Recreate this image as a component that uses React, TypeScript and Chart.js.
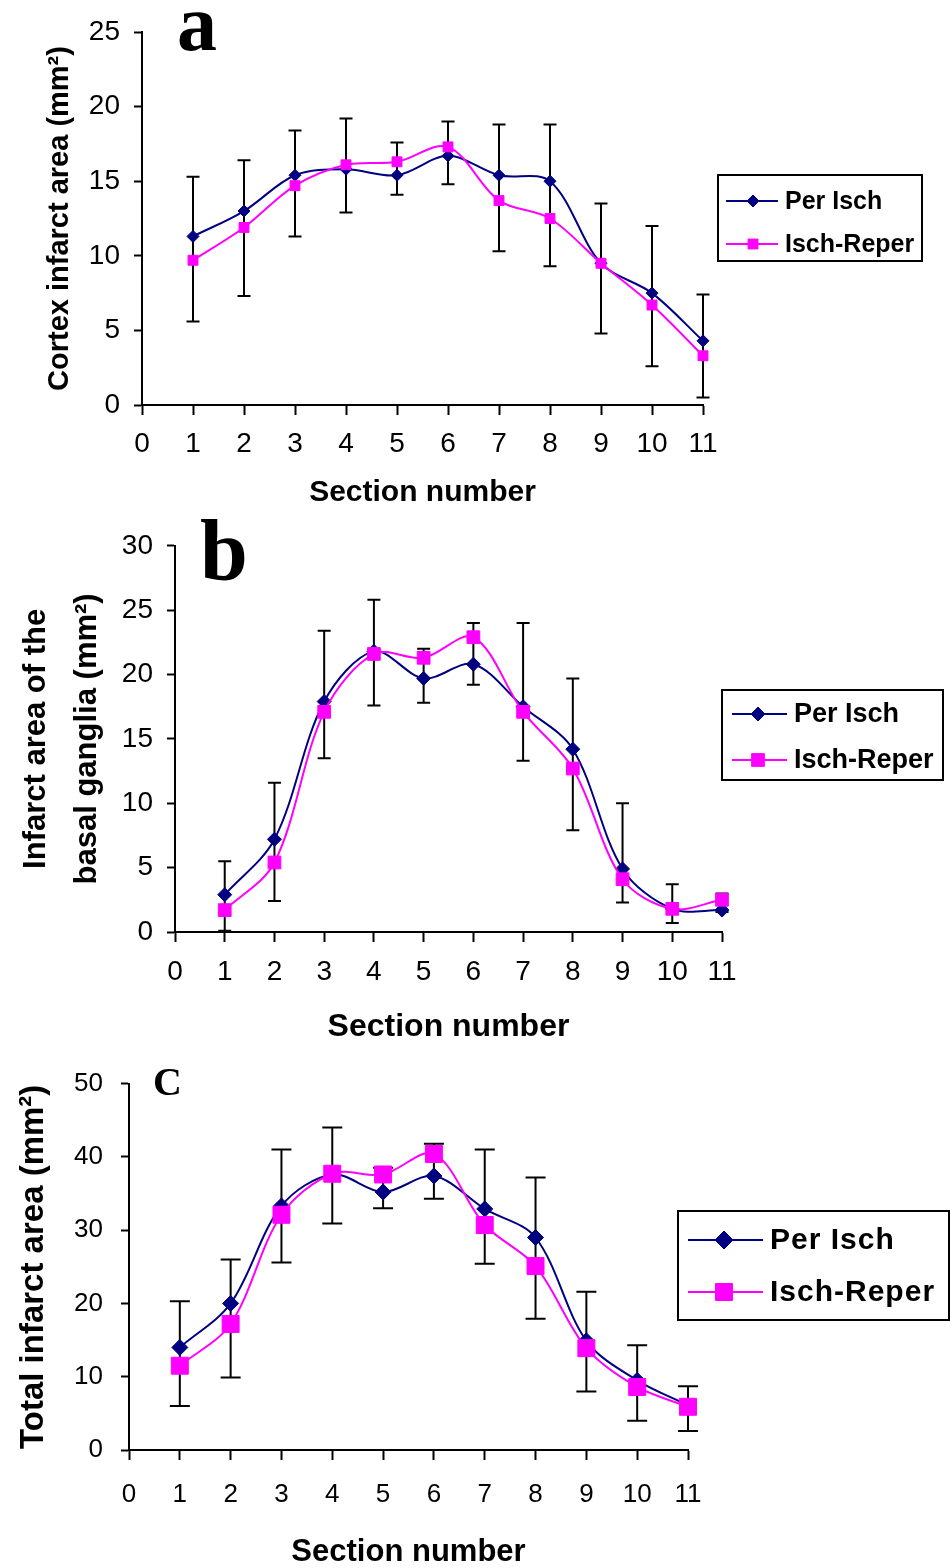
import React, { useEffect, useRef } from "react";
import { Chart, registerables } from "chart.js";

Chart.register(...registerables);
Chart.defaults.color = "#000";

// ---------------- data ----------------
const sections = [1, 2, 3, 4, 5, 6, 7, 8, 9, 10, 11];
const seriesNames = ["Per Isch", "Isch-Reper"];

// panel a: cortex
const cortexPerIsch = [11.3, 13.0, 15.4, 15.8, 15.4, 16.7, 15.4, 15.0, 9.5, 7.5, 4.3];
const cortexIschReper = [9.7, 11.9, 14.7, 16.1, 16.3, 17.3, 13.7, 12.5, 9.5, 6.7, 3.3];
const cortexPerIschSD = [4.0, 3.4, 3.0, 3.4, 2.2, 2.3, 3.4, 3.8, 4.0, 4.5, 3.1];
const cortexIschReperSD = [4.1, 4.6, 3.4, 3.2, 2.2, 2.5, 3.4, 3.2, 4.7, 4.1, 2.8];

// panel b: basal ganglia
const basalPerIsch = [2.9, 7.2, 17.9, 21.8, 19.7, 20.8, 17.5, 14.2, 4.9, 1.8, 1.7];
const basalIschReper = [1.7, 5.4, 17.1, 21.6, 21.3, 22.9, 17.1, 12.7, 4.1, 1.8, 2.5];
const basalPerIschSD = [2.6, 4.4, 5.5, 4.0, 2.3, 3.2, 6.5, 5.5, 5.1, 1.9, 1.3];
const basalIschReperSD = [1.6, 3.0, 3.6, 4.0, 3.5, 3.7, 3.8, 4.8, 1.8, 1.1, 0.95];

// panel c: total
const totalPerIsch = [14.0, 20.0, 33.3, 37.6, 35.2, 37.4, 32.9, 29.0, 14.9, 9.5, 6.1];
const totalIschReper = [11.5, 17.2, 32.1, 37.7, 37.6, 40.4, 30.7, 25.1, 13.9, 8.6, 5.9];
const totalPerIschSD = [6.3, 6.0, 7.7, 6.4, 3.3, 4.4, 8.1, 8.2, 6.7, 4.8, 2.6];
const totalIschReperSD = [5.5, 7.3, 6.5, 6.8, 4.6, 6.1, 5.3, 7.2, 5.9, 4.6, 3.3];

// axis ranges / ticks
const xMax = 11;
const cortexYMax = 25;
const cortexYStep = 5;
const basalYMax = 30;
const basalYStep = 5;
const totalYMax = 50;
const totalYStep = 10;

// ---------------- styles ----------------
const BLUE = "#000080";
const PINK = "#FF00FF";
const TICK_FAMILY = '"Liberation Sans Narrow", "Liberation Sans", Arial, sans-serif';
const SANS = '"Liberation Sans", Arial, sans-serif';
const SERIF = '"Liberation Serif", "Times New Roman", serif';

type Spec = {
  top: number;
  height: number;
  area: { left: number; top: number; right: number; bottom: number };
  yMax: number;
  yStep: number;
  perIsch: number[];
  ischReper: number[];
  perIschSD: number[];
  ischReperSD: number[];
  yTitle: string | string[];
  yTitleSize: number;
  yTitleLH: number;
  yTitlePad: number;
  xTitleSize: number;
  xTitleLH: number;
  xTitlePad: number;
  tickSize: number;
  xTickPad: number;
  yTickPad: number;
  blueR: number;
  pinkR: number;
  cap: number;
  letter: string;
  letterFont: string;
  letterX: number;
  letterY: number;
  legend: {
    left: number; top: number; right: number; bottom: number;
    rows: number[]; lineX0: number; lineX1: number; markX: number; textX: number;
    font: string; spacing: number; blueR: number; pinkR: number;
  };
};

const panels: Spec[] = [
  {
    top: 0, height: 515,
    area: { left: 142, top: 32, right: 703, bottom: 405 },
    yMax: cortexYMax, yStep: cortexYStep,
    perIsch: cortexPerIsch, ischReper: cortexIschReper,
    perIschSD: cortexPerIschSD, ischReperSD: cortexIschReperSD,
    yTitle: "Cortex infarct area (mm\u00B2)", yTitleSize: 29, yTitleLH: 1.2, yTitlePad: 43,
    xTitleSize: 30, xTitleLH: 1.2, xTitlePad: 4,
    tickSize: 28, xTickPad: 12, yTickPad: 14,
    blueR: 6, pinkR: 7, cap: 13,
    letter: "a", letterFont: `bold 80px ${SERIF}`, letterX: 177, letterY: 50,
    legend: {
      left: 718, top: 175, right: 922, bottom: 261, rows: [201, 244],
      lineX0: 726, lineX1: 778, markX: 753, textX: 785,
      font: `bold 25px ${SANS}`, spacing: 0, blueR: 6, pinkR: 7,
    },
  },
  {
    top: 515, height: 535,
    area: { left: 175, top: 17, right: 722, bottom: 417 },
    yMax: basalYMax, yStep: basalYStep,
    perIsch: basalPerIsch, ischReper: basalIschReper,
    perIschSD: basalPerIschSD, ischReperSD: basalIschReperSD,
    yTitle: ["Infarct area of the", "basal ganglia (mm\u00B2)"], yTitleSize: 31, yTitleLH: 1.65, yTitlePad: 11,
    xTitleSize: 32, xTitleLH: 1.2, xTitlePad: 4,
    tickSize: 28, xTickPad: 13, yTickPad: 14,
    blueR: 7, pinkR: 9, cap: 13,
    letter: "b", letterFont: `bold 86px ${SERIF}`, letterX: 200, letterY: 64,
    legend: {
      left: 722, top: 175, right: 943, bottom: 265, rows: [199, 245],
      lineX0: 732, lineX1: 787, markX: 758, textX: 794,
      font: `bold 27px ${SANS}`, spacing: 0, blueR: 7, pinkR: 9,
    },
  },
  {
    top: 1050, height: 518,
    area: { left: 129, top: 30, right: 688, bottom: 400 },
    yMax: totalYMax, yStep: totalYStep,
    perIsch: totalPerIsch, ischReper: totalIschReper,
    perIschSD: totalPerIschSD, ischReperSD: totalIschReperSD,
    yTitle: "Total infarct area (mm\u00B2)", yTitleSize: 33, yTitleLH: 1.2, yTitlePad: 14,
    xTitleSize: 31, xTitleLH: 1.0, xTitlePad: 0,
    tickSize: 26, xTickPad: 19, yTickPad: 18,
    blueR: 8, pinkR: 12, cap: 20,
    letter: "C", letterFont: `bold 40px ${SERIF}`, letterX: 153, letterY: 45,
    legend: {
      left: 678, top: 161, right: 949, bottom: 270, rows: [190, 242],
      lineX0: 688, lineX1: 763, markX: 724, textX: 770,
      font: `bold 30px ${SANS}`, spacing: 1, blueR: 9, pinkR: 12,
    },
  },
];

function drawMarker(ctx: CanvasRenderingContext2D, style: string, x: number, y: number, r: number, color: string) {
  ctx.save();
  ctx.fillStyle = color;
  ctx.strokeStyle = color;
  ctx.lineWidth = 1;
  ctx.beginPath();
  if (style === "rect") {
    const s = Math.SQRT1_2 * r;
    ctx.rect(x - s, y - s, 2 * s, 2 * s);
  } else {
    ctx.moveTo(x, y - r);
    ctx.lineTo(x + r, y);
    ctx.lineTo(x, y + r);
    ctx.lineTo(x - r, y);
    ctx.closePath();
  }
  ctx.fill();
  ctx.stroke();
  ctx.restore();
}

function Panel({ spec }: { spec: Spec }) {
  const ref = useRef<HTMLCanvasElement>(null);

  useEffect(() => {
    const canvas = ref.current;
    if (!canvas) return;
    const W = 950;
    const H = spec.height;

    const errorBars = {
      id: "errorBars",
      beforeDatasetsDraw(chart: any) {
        const { ctx } = chart;
        const xs = chart.scales.x;
        const ys = chart.scales.y;
        ctx.save();
        ctx.strokeStyle = "#000";
        ctx.lineWidth = 2;
        sections.forEach((s, i) => {
          const px = xs.getPixelForValue(s);
          const yTop = ys.getPixelForValue(spec.perIsch[i] + spec.perIschSD[i]);
          const yBot = ys.getPixelForValue(spec.ischReper[i] - spec.ischReperSD[i]);
          const h = spec.cap / 2;
          ctx.beginPath();
          ctx.moveTo(px, yTop);
          ctx.lineTo(px, yBot);
          ctx.moveTo(px - h, yTop);
          ctx.lineTo(px + h, yTop);
          ctx.moveTo(px - h, yBot);
          ctx.lineTo(px + h, yBot);
          ctx.stroke();
        });
        ctx.restore();
      },
    };

    const decorations = {
      id: "decorations",
      afterDraw(chart: any) {
        const { ctx } = chart;
        const L = spec.legend;
        ctx.save();
        // panel letter
        ctx.fillStyle = "#000";
        ctx.font = spec.letterFont;
        ctx.textAlign = "left";
        ctx.textBaseline = "alphabetic";
        ctx.fillText(spec.letter, spec.letterX, spec.letterY);
        // legend box
        ctx.strokeStyle = "#000";
        ctx.lineWidth = 2;
        ctx.strokeRect(L.left, L.top, L.right - L.left, L.bottom - L.top);
        const ds = chart.data.datasets;
        const order = [0, 1];
        order.forEach((k, row) => {
          const d = ds[k];
          const y = L.rows[row];
          ctx.beginPath();
          ctx.strokeStyle = d.borderColor;
          ctx.lineWidth = 2;
          ctx.moveTo(L.lineX0, y);
          ctx.lineTo(L.lineX1, y);
          ctx.stroke();
          drawMarker(ctx, d.pointStyle, L.markX, y, k === 0 ? L.blueR : L.pinkR, d.borderColor);
          ctx.fillStyle = "#000";
          ctx.font = L.font;
          (ctx as any).letterSpacing = `${L.spacing}px`;
          ctx.textBaseline = "middle";
          ctx.fillText(d.label, L.textX, y + 1);
          (ctx as any).letterSpacing = "0px";
        });
        ctx.restore();
      },
    };

    const mk = (vals: number[]) => sections.map((s, i) => ({ x: s, y: vals[i] }));

    const chart = new Chart(canvas, {
      type: "line",
      data: {
        datasets: [
          {
            label: seriesNames[0],
            data: mk(spec.perIsch),
            borderColor: BLUE,
            backgroundColor: BLUE,
            borderWidth: 2,
            pointStyle: "rectRot",
            pointRadius: spec.blueR,
            pointBorderWidth: 1,
            tension: 0.33,
            fill: false,
            clip: false,
            order: 1,
          },
          {
            label: seriesNames[1],
            data: mk(spec.ischReper),
            borderColor: PINK,
            backgroundColor: PINK,
            borderWidth: 2,
            pointStyle: "rect",
            pointRadius: spec.pinkR,
            pointBorderWidth: 1,
            tension: 0.33,
            fill: false,
            clip: false,
            order: 0,
          },
        ],
      },
      options: {
        responsive: false,
        animation: false,
        devicePixelRatio: 1,
        events: [],
        layout: {
          padding: { left: 0, top: spec.area.top, right: W - spec.area.right, bottom: 0 },
        },
        plugins: {
          legend: { display: false },
          tooltip: { enabled: false },
          title: { display: false },
        },
        scales: {
          x: {
            type: "linear",
            min: 0,
            max: xMax,
            ticks: {
              stepSize: 1,
              autoSkip: false,
              maxRotation: 0,
              color: "#000",
              padding: spec.xTickPad,
              font: { family: TICK_FAMILY, size: spec.tickSize, lineHeight: 1.2 },
            },
            grid: {
              display: true,
              drawOnChartArea: false,
              drawTicks: true,
              tickLength: 10,
              tickColor: "#000",
              tickWidth: 2,
            },
            border: { display: true, color: "#000", width: 2 },
            title: {
              display: true,
              text: "Section number",
              color: "#000",
              font: { family: SANS, size: spec.xTitleSize, weight: "bold", lineHeight: spec.xTitleLH },
              padding: { top: 0, bottom: spec.xTitlePad },
            },
            afterFit: (s: any) => {
              s.height = H - spec.area.bottom;
            },
          },
          y: {
            type: "linear",
            min: 0,
            max: spec.yMax,
            ticks: {
              stepSize: spec.yStep,
              color: "#000",
              padding: spec.yTickPad,
              font: { family: TICK_FAMILY, size: spec.tickSize, lineHeight: 1.2 },
            },
            grid: {
              display: true,
              drawOnChartArea: false,
              drawTicks: true,
              tickLength: 8,
              tickColor: "#000",
              tickWidth: 2,
            },
            border: { display: true, color: "#000", width: 2 },
            title: {
              display: true,
              text: spec.yTitle,
              color: "#000",
              font: { family: SANS, size: spec.yTitleSize, weight: "bold", lineHeight: spec.yTitleLH },
              padding: { top: spec.yTitlePad, bottom: 0 },
            },
            afterFit: (s: any) => {
              s.width = spec.area.left;
            },
          },
        },
      } as any,
      plugins: [errorBars, decorations],
    });

    return () => {
      chart.destroy();
    };
  }, [spec]);

  return (
    <canvas
      ref={ref}
      width={950}
      height={spec.height}
      style={{ position: "absolute", left: 0, top: spec.top, width: 950, height: spec.height }}
    />
  );
}

export default function App() {
  return (
    <div
      style={{
        position: "absolute",
        left: 0,
        top: 0,
        width: 950,
        height: 1568,
        background: "#fff",
        overflow: "hidden",
      }}
    >
      {panels.map((p, i) => (
        <Panel key={i} spec={p} />
      ))}
    </div>
  );
}
